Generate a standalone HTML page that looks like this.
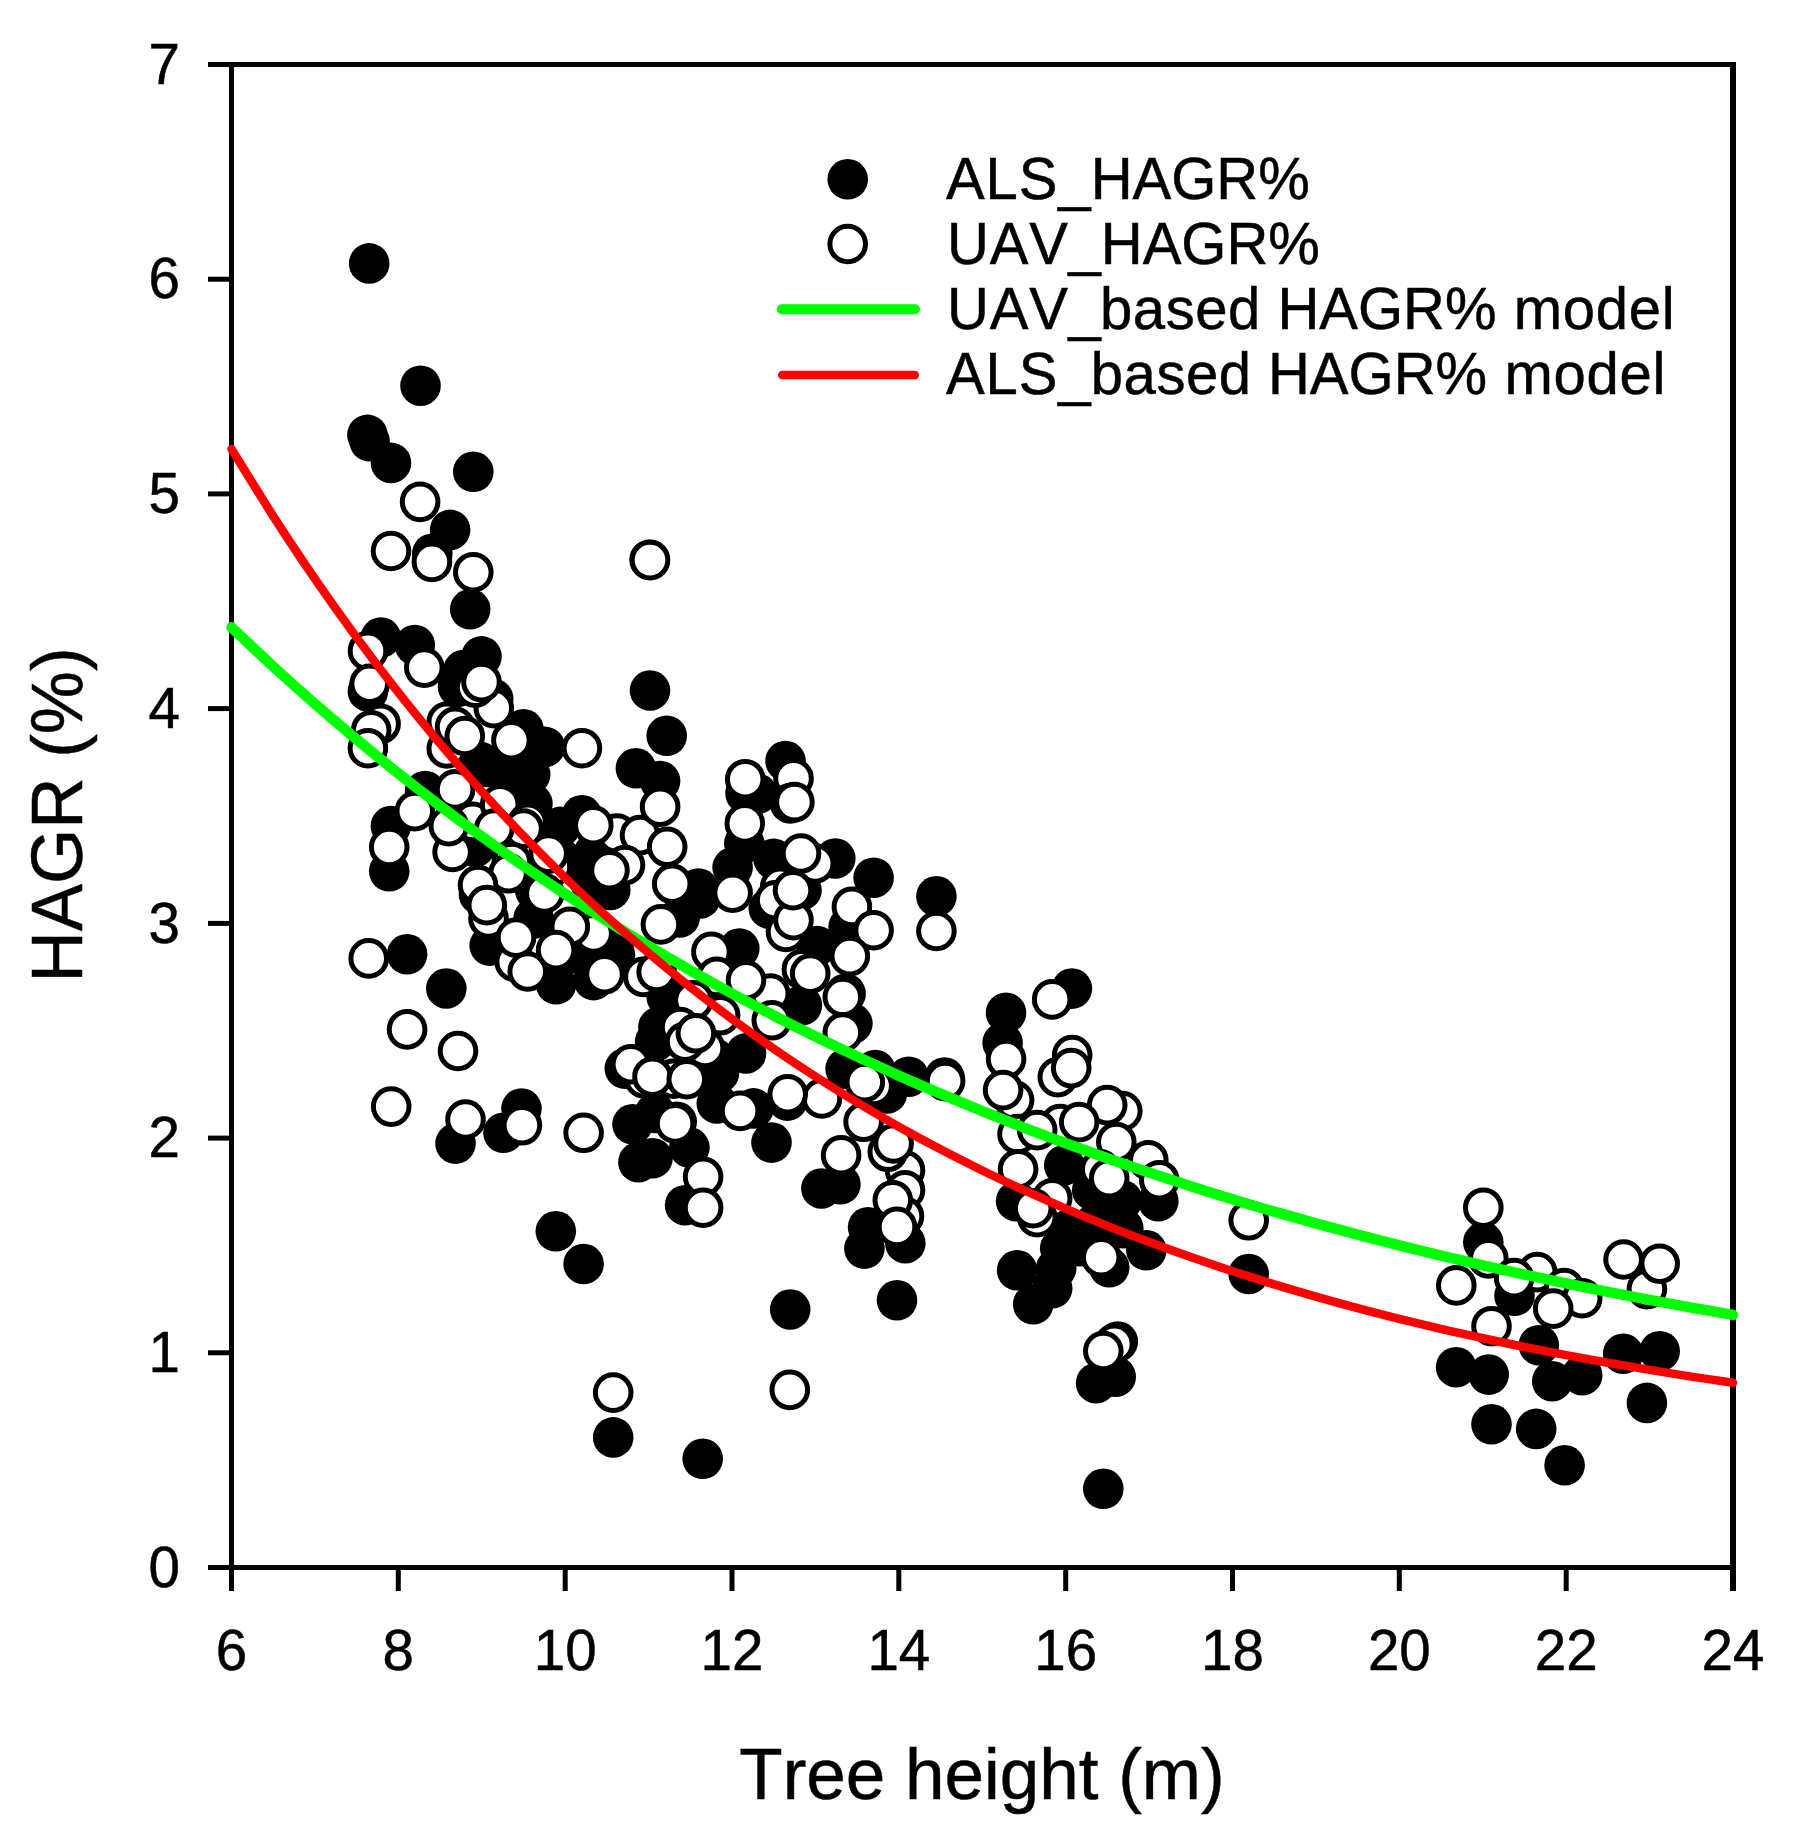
<!DOCTYPE html>
<html lang="en"><head><meta charset="utf-8"><title>HAGR vs Tree height</title>
<style>html,body{margin:0;padding:0;background:#fff}body{width:1798px;height:1829px;overflow:hidden}svg{display:block}text{font-family:"Liberation Sans",sans-serif;fill:#000;font-kerning:none;stroke:#000;stroke-width:0.5px}.b{fill:#000}.w{fill:#fff;stroke:#000;stroke-width:5}</style></head><body>
<svg width="1798" height="1829" viewBox="0 0 1798 1829">
<rect width="1798" height="1829" fill="#fff"/>
<g stroke="#000" stroke-width="5" fill="none">
<path d="M229 64.5 H1736"/>
<path d="M208 1567.5 H1736"/>
<path d="M231.5 62 V1591"/>
<path d="M1733 62 V1591" stroke-width="6"/>
<path d="M208 1567.5 H231.5"/>
<path d="M208 1352.8 H231.5"/>
<path d="M208 1138.1 H231.5"/>
<path d="M208 923.4 H231.5"/>
<path d="M208 708.6 H231.5"/>
<path d="M208 493.9 H231.5"/>
<path d="M208 279.2 H231.5"/>
<path d="M208 64.5 H231.5"/>
<path d="M398.3 1567.5 V1591"/>
<path d="M565.2 1567.5 V1591"/>
<path d="M732.0 1567.5 V1591"/>
<path d="M898.8 1567.5 V1591"/>
<path d="M1065.7 1567.5 V1591"/>
<path d="M1232.5 1567.5 V1591"/>
<path d="M1399.3 1567.5 V1591"/>
<path d="M1566.2 1567.5 V1591"/>
</g>
<g class="b">
<circle cx="369.2" cy="263.4" r="20.3"/>
<circle cx="420.5" cy="385.7" r="20.3"/>
<circle cx="367.4" cy="434.9" r="20.3"/>
<circle cx="369.6" cy="441.3" r="20.3"/>
<circle cx="391.0" cy="462.9" r="20.3"/>
<circle cx="473.3" cy="471.8" r="20.3"/>
<circle cx="450.1" cy="529.9" r="20.3"/>
<circle cx="432.3" cy="553.7" r="20.3"/>
<circle cx="470.2" cy="609.3" r="20.3"/>
<circle cx="380.9" cy="637.6" r="20.3"/>
<circle cx="414.8" cy="645.1" r="20.3"/>
<circle cx="481.5" cy="656.4" r="20.3"/>
<circle cx="463.5" cy="670.1" r="20.3"/>
<circle cx="458.0" cy="686.8" r="20.3"/>
<circle cx="367.9" cy="691.5" r="20.3"/>
<circle cx="493.2" cy="698.8" r="20.3"/>
<circle cx="523.5" cy="729.3" r="20.3"/>
<circle cx="544.9" cy="746.9" r="20.3"/>
<circle cx="530.2" cy="774.4" r="20.3"/>
<circle cx="506.9" cy="765.2" r="20.3"/>
<circle cx="486.8" cy="766.9" r="20.3"/>
<circle cx="480.2" cy="761.9" r="20.3"/>
<circle cx="513.5" cy="785.2" r="20.3"/>
<circle cx="425.1" cy="791.1" r="20.3"/>
<circle cx="390.9" cy="826.1" r="20.3"/>
<circle cx="532.4" cy="803.6" r="20.3"/>
<circle cx="581.9" cy="815.3" r="20.3"/>
<circle cx="560.3" cy="826.9" r="20.3"/>
<circle cx="475.2" cy="847.0" r="20.3"/>
<circle cx="593.6" cy="853.6" r="20.3"/>
<circle cx="389.2" cy="871.3" r="20.3"/>
<circle cx="407.1" cy="954.3" r="20.3"/>
<circle cx="446.3" cy="988.5" r="20.3"/>
<circle cx="489.7" cy="945.6" r="20.3"/>
<circle cx="556.1" cy="984.3" r="20.3"/>
<circle cx="593.6" cy="980.1" r="20.3"/>
<circle cx="533.6" cy="918.4" r="20.3"/>
<circle cx="576.9" cy="953.4" r="20.3"/>
<circle cx="613.6" cy="946.8" r="20.3"/>
<circle cx="610.3" cy="890.0" r="20.3"/>
<circle cx="521.5" cy="1108.6" r="20.3"/>
<circle cx="503.5" cy="1132.8" r="20.3"/>
<circle cx="455.5" cy="1143.6" r="20.3"/>
<circle cx="624.8" cy="1068.6" r="20.3"/>
<circle cx="650.0" cy="690.5" r="20.3"/>
<circle cx="666.7" cy="735.8" r="20.3"/>
<circle cx="635.9" cy="768.3" r="20.3"/>
<circle cx="660.1" cy="781.1" r="20.3"/>
<circle cx="785.5" cy="761.1" r="20.3"/>
<circle cx="745.5" cy="793.4" r="20.3"/>
<circle cx="744.3" cy="843.4" r="20.3"/>
<circle cx="732.6" cy="867.6" r="20.3"/>
<circle cx="773.5" cy="858.8" r="20.3"/>
<circle cx="835.3" cy="858.5" r="20.3"/>
<circle cx="873.6" cy="877.7" r="20.3"/>
<circle cx="698.4" cy="888.5" r="20.3"/>
<circle cx="700.1" cy="898.5" r="20.3"/>
<circle cx="679.7" cy="917.4" r="20.3"/>
<circle cx="739.3" cy="948.6" r="20.3"/>
<circle cx="801.5" cy="890.2" r="20.3"/>
<circle cx="768.8" cy="908.5" r="20.3"/>
<circle cx="816.9" cy="946.1" r="20.3"/>
<circle cx="848.6" cy="926.9" r="20.3"/>
<circle cx="801.9" cy="1005.3" r="20.3"/>
<circle cx="852.4" cy="1023.6" r="20.3"/>
<circle cx="658.4" cy="1027.0" r="20.3"/>
<circle cx="615.0" cy="955.2" r="20.3"/>
<circle cx="666.7" cy="997.0" r="20.3"/>
<circle cx="655.1" cy="1041.7" r="20.3"/>
<circle cx="746.0" cy="1053.4" r="20.3"/>
<circle cx="716.8" cy="1103.4" r="20.3"/>
<circle cx="753.5" cy="1108.4" r="20.3"/>
<circle cx="787.4" cy="1100.6" r="20.3"/>
<circle cx="771.5" cy="1142.6" r="20.3"/>
<circle cx="632.5" cy="1124.3" r="20.3"/>
<circle cx="638.4" cy="1162.2" r="20.3"/>
<circle cx="652.5" cy="1158.2" r="20.3"/>
<circle cx="689.4" cy="1147.6" r="20.3"/>
<circle cx="676.7" cy="1121.8" r="20.3"/>
<circle cx="685.1" cy="1205.2" r="20.3"/>
<circle cx="821.4" cy="1188.5" r="20.3"/>
<circle cx="840.4" cy="1184.3" r="20.3"/>
<circle cx="845.6" cy="1068.7" r="20.3"/>
<circle cx="875.3" cy="1070.1" r="20.3"/>
<circle cx="908.7" cy="1076.7" r="20.3"/>
<circle cx="887.0" cy="1093.4" r="20.3"/>
<circle cx="868.1" cy="1227.2" r="20.3"/>
<circle cx="864.4" cy="1248.6" r="20.3"/>
<circle cx="905.3" cy="1243.2" r="20.3"/>
<circle cx="790.2" cy="1309.5" r="20.3"/>
<circle cx="897.0" cy="1300.3" r="20.3"/>
<circle cx="613.2" cy="1437.4" r="20.3"/>
<circle cx="702.7" cy="1458.8" r="20.3"/>
<circle cx="555.8" cy="1231.3" r="20.3"/>
<circle cx="583.6" cy="1264.0" r="20.3"/>
<circle cx="936.4" cy="896.3" r="20.3"/>
<circle cx="1006.0" cy="1012.8" r="20.3"/>
<circle cx="1002.6" cy="1042.8" r="20.3"/>
<circle cx="1071.9" cy="988.6" r="20.3"/>
<circle cx="944.5" cy="1077.5" r="20.3"/>
<circle cx="1016.1" cy="1201.2" r="20.3"/>
<circle cx="1064.2" cy="1165.2" r="20.3"/>
<circle cx="1092.2" cy="1190.2" r="20.3"/>
<circle cx="1122.3" cy="1200.2" r="20.3"/>
<circle cx="1158.3" cy="1201.2" r="20.3"/>
<circle cx="1064.2" cy="1230.2" r="20.3"/>
<circle cx="1094.2" cy="1224.2" r="20.3"/>
<circle cx="1123.3" cy="1228.2" r="20.3"/>
<circle cx="1146.3" cy="1250.3" r="20.3"/>
<circle cx="1109.2" cy="1267.3" r="20.3"/>
<circle cx="1017.1" cy="1270.3" r="20.3"/>
<circle cx="1056.2" cy="1268.3" r="20.3"/>
<circle cx="1052.2" cy="1288.3" r="20.3"/>
<circle cx="1033.2" cy="1304.3" r="20.3"/>
<circle cx="1060.2" cy="1248.3" r="20.3"/>
<circle cx="1080.2" cy="1246.3" r="20.3"/>
<circle cx="1248.7" cy="1274.0" r="20.3"/>
<circle cx="1483.3" cy="1242.3" r="20.3"/>
<circle cx="1514.5" cy="1295.8" r="20.3"/>
<circle cx="1538.8" cy="1345.2" r="20.3"/>
<circle cx="1456.1" cy="1367.2" r="20.3"/>
<circle cx="1488.7" cy="1374.6" r="20.3"/>
<circle cx="1552.2" cy="1381.2" r="20.3"/>
<circle cx="1582.2" cy="1375.2" r="20.3"/>
<circle cx="1623.2" cy="1353.8" r="20.3"/>
<circle cx="1659.7" cy="1351.2" r="20.3"/>
<circle cx="1646.9" cy="1402.9" r="20.3"/>
<circle cx="1491.5" cy="1424.3" r="20.3"/>
<circle cx="1536.2" cy="1428.9" r="20.3"/>
<circle cx="1564.6" cy="1465.3" r="20.3"/>
<circle cx="1103.3" cy="1488.8" r="20.3"/>
<circle cx="1096.1" cy="1383.2" r="20.3"/>
<circle cx="1115.7" cy="1376.7" r="20.3"/>
<circle cx="1117.8" cy="1341.6" r="20.3"/>
<circle cx="655.1" cy="1113.0" r="20.3"/>
<circle cx="713.8" cy="1057.9" r="20.3"/>
<circle cx="719.0" cy="1073.0" r="20.3"/>
<circle cx="757.5" cy="793.8" r="20.3"/>
<circle cx="845.6" cy="993.7" r="20.3"/>
<circle cx="559.6" cy="857.4" r="20.3"/>
<circle cx="535.2" cy="890.3" r="20.3"/>
<circle cx="589.4" cy="880.5" r="20.3"/>
<circle cx="479.0" cy="894.5" r="20.3"/>
</g><g class="w">
<circle cx="617.0" cy="833.6" r="17.8"/>
<circle cx="640.0" cy="835.1" r="17.8"/>
<circle cx="625.0" cy="865.1" r="17.8"/>
<circle cx="905.0" cy="1170.2" r="17.8"/>
<circle cx="905.0" cy="1190.2" r="17.8"/>
<circle cx="904.0" cy="1216.2" r="17.8"/>
<circle cx="673.4" cy="1078.7" r="17.8"/>
<circle cx="420.1" cy="501.9" r="17.8"/>
<circle cx="391.0" cy="551.0" r="17.8"/>
<circle cx="431.9" cy="561.9" r="17.8"/>
<circle cx="473.3" cy="572.2" r="17.8"/>
<circle cx="649.7" cy="559.7" r="17.8"/>
<circle cx="368.0" cy="650.9" r="17.8"/>
<circle cx="369.7" cy="683.8" r="17.8"/>
<circle cx="424.3" cy="667.6" r="17.8"/>
<circle cx="493.8" cy="708.1" r="17.8"/>
<circle cx="475.2" cy="687.6" r="17.8"/>
<circle cx="481.5" cy="682.1" r="17.8"/>
<circle cx="511.4" cy="740.2" r="17.8"/>
<circle cx="581.9" cy="748.2" r="17.8"/>
<circle cx="446.8" cy="748.5" r="17.8"/>
<circle cx="446.8" cy="721.8" r="17.8"/>
<circle cx="455.1" cy="726.8" r="17.8"/>
<circle cx="464.8" cy="736.0" r="17.8"/>
<circle cx="380.6" cy="723.8" r="17.8"/>
<circle cx="371.2" cy="730.2" r="17.8"/>
<circle cx="367.9" cy="748.2" r="17.8"/>
<circle cx="455.1" cy="789.4" r="17.8"/>
<circle cx="414.8" cy="811.1" r="17.8"/>
<circle cx="389.2" cy="847.0" r="17.8"/>
<circle cx="472.7" cy="821.9" r="17.8"/>
<circle cx="452.6" cy="852.0" r="17.8"/>
<circle cx="448.8" cy="826.1" r="17.8"/>
<circle cx="500.2" cy="804.4" r="17.8"/>
<circle cx="527.7" cy="822.8" r="17.8"/>
<circle cx="523.5" cy="828.6" r="17.8"/>
<circle cx="494.3" cy="828.6" r="17.8"/>
<circle cx="593.3" cy="825.3" r="17.8"/>
<circle cx="609.5" cy="870.3" r="17.8"/>
<circle cx="551.9" cy="867.0" r="17.8"/>
<circle cx="548.6" cy="853.6" r="17.8"/>
<circle cx="511.9" cy="862.0" r="17.8"/>
<circle cx="368.7" cy="958.4" r="17.8"/>
<circle cx="407.1" cy="1029.4" r="17.8"/>
<circle cx="458.0" cy="1051.0" r="17.8"/>
<circle cx="391.2" cy="1106.6" r="17.8"/>
<circle cx="465.5" cy="1119.5" r="17.8"/>
<circle cx="521.9" cy="1125.3" r="17.8"/>
<circle cx="583.6" cy="1132.8" r="17.8"/>
<circle cx="508.5" cy="873.3" r="17.8"/>
<circle cx="478.0" cy="885.0" r="17.8"/>
<circle cx="488.5" cy="918.4" r="17.8"/>
<circle cx="486.8" cy="905.1" r="17.8"/>
<circle cx="514.7" cy="961.8" r="17.8"/>
<circle cx="516.0" cy="937.6" r="17.8"/>
<circle cx="527.7" cy="971.5" r="17.8"/>
<circle cx="593.6" cy="933.4" r="17.8"/>
<circle cx="569.8" cy="926.7" r="17.8"/>
<circle cx="556.1" cy="950.1" r="17.8"/>
<circle cx="604.5" cy="974.3" r="17.8"/>
<circle cx="544.4" cy="893.4" r="17.8"/>
<circle cx="650.0" cy="560.1" r="17.8"/>
<circle cx="793.5" cy="778.4" r="17.8"/>
<circle cx="745.2" cy="779.2" r="17.8"/>
<circle cx="790.2" cy="803.4" r="17.8"/>
<circle cx="794.4" cy="802.1" r="17.8"/>
<circle cx="744.8" cy="823.4" r="17.8"/>
<circle cx="660.1" cy="806.7" r="17.8"/>
<circle cx="667.2" cy="846.8" r="17.8"/>
<circle cx="672.2" cy="883.8" r="17.8"/>
<circle cx="660.9" cy="924.4" r="17.8"/>
<circle cx="732.6" cy="892.7" r="17.8"/>
<circle cx="815.2" cy="863.5" r="17.8"/>
<circle cx="801.0" cy="853.5" r="17.8"/>
<circle cx="780.2" cy="886.8" r="17.8"/>
<circle cx="775.2" cy="900.2" r="17.8"/>
<circle cx="786.0" cy="931.9" r="17.8"/>
<circle cx="793.5" cy="920.2" r="17.8"/>
<circle cx="793.0" cy="890.2" r="17.8"/>
<circle cx="851.9" cy="906.9" r="17.8"/>
<circle cx="873.6" cy="930.2" r="17.8"/>
<circle cx="849.8" cy="956.1" r="17.8"/>
<circle cx="801.9" cy="969.4" r="17.8"/>
<circle cx="810.2" cy="973.6" r="17.8"/>
<circle cx="842.8" cy="997.0" r="17.8"/>
<circle cx="711.4" cy="951.9" r="17.8"/>
<circle cx="716.8" cy="976.9" r="17.8"/>
<circle cx="770.2" cy="993.6" r="17.8"/>
<circle cx="746.0" cy="980.3" r="17.8"/>
<circle cx="771.8" cy="1020.3" r="17.8"/>
<circle cx="720.1" cy="1015.3" r="17.8"/>
<circle cx="693.4" cy="1000.3" r="17.8"/>
<circle cx="643.4" cy="976.9" r="17.8"/>
<circle cx="656.7" cy="971.9" r="17.8"/>
<circle cx="680.1" cy="1027.0" r="17.8"/>
<circle cx="705.1" cy="1048.0" r="17.8"/>
<circle cx="685.1" cy="1041.7" r="17.8"/>
<circle cx="695.9" cy="1033.3" r="17.8"/>
<circle cx="644.2" cy="1078.4" r="17.8"/>
<circle cx="630.9" cy="1064.2" r="17.8"/>
<circle cx="652.5" cy="1076.7" r="17.8"/>
<circle cx="686.8" cy="1079.2" r="17.8"/>
<circle cx="675.1" cy="1123.4" r="17.8"/>
<circle cx="740.1" cy="1110.9" r="17.8"/>
<circle cx="821.9" cy="1098.4" r="17.8"/>
<circle cx="787.7" cy="1094.2" r="17.8"/>
<circle cx="873.6" cy="1085.9" r="17.8"/>
<circle cx="864.8" cy="1082.1" r="17.8"/>
<circle cx="863.6" cy="1121.8" r="17.8"/>
<circle cx="887.8" cy="1151.8" r="17.8"/>
<circle cx="893.6" cy="1143.5" r="17.8"/>
<circle cx="841.1" cy="1155.2" r="17.8"/>
<circle cx="703.1" cy="1176.8" r="17.8"/>
<circle cx="703.1" cy="1207.7" r="17.8"/>
<circle cx="892.8" cy="1200.2" r="17.8"/>
<circle cx="897.0" cy="1226.9" r="17.8"/>
<circle cx="842.8" cy="1032.5" r="17.8"/>
<circle cx="613.2" cy="1392.6" r="17.8"/>
<circle cx="789.8" cy="1389.9" r="17.8"/>
<circle cx="936.4" cy="931.0" r="17.8"/>
<circle cx="1052.2" cy="999.4" r="17.8"/>
<circle cx="1006.1" cy="1059.0" r="17.8"/>
<circle cx="945.1" cy="1081.1" r="17.8"/>
<circle cx="1014.1" cy="1100.1" r="17.8"/>
<circle cx="1003.1" cy="1090.1" r="17.8"/>
<circle cx="1072.2" cy="1055.0" r="17.8"/>
<circle cx="1057.8" cy="1077.1" r="17.8"/>
<circle cx="1071.2" cy="1068.1" r="17.8"/>
<circle cx="1122.3" cy="1111.1" r="17.8"/>
<circle cx="1107.2" cy="1105.1" r="17.8"/>
<circle cx="1060.2" cy="1124.1" r="17.8"/>
<circle cx="1079.2" cy="1122.1" r="17.8"/>
<circle cx="1116.3" cy="1142.1" r="17.8"/>
<circle cx="1017.5" cy="1134.1" r="17.8"/>
<circle cx="1037.2" cy="1130.1" r="17.8"/>
<circle cx="1018.1" cy="1169.2" r="17.8"/>
<circle cx="1052.2" cy="1198.2" r="17.8"/>
<circle cx="1037.2" cy="1217.2" r="17.8"/>
<circle cx="1033.2" cy="1208.2" r="17.8"/>
<circle cx="1100.2" cy="1169.2" r="17.8"/>
<circle cx="1109.2" cy="1178.2" r="17.8"/>
<circle cx="1148.3" cy="1160.2" r="17.8"/>
<circle cx="1159.3" cy="1180.2" r="17.8"/>
<circle cx="1101.2" cy="1257.3" r="17.8"/>
<circle cx="1248.7" cy="1220.3" r="17.8"/>
<circle cx="1483.3" cy="1207.7" r="17.8"/>
<circle cx="1488.3" cy="1258.4" r="17.8"/>
<circle cx="1456.3" cy="1285.4" r="17.8"/>
<circle cx="1537.2" cy="1272.1" r="17.8"/>
<circle cx="1514.1" cy="1278.1" r="17.8"/>
<circle cx="1564.2" cy="1288.1" r="17.8"/>
<circle cx="1582.2" cy="1298.2" r="17.8"/>
<circle cx="1553.2" cy="1308.6" r="17.8"/>
<circle cx="1491.5" cy="1326.2" r="17.8"/>
<circle cx="1623.6" cy="1259.5" r="17.8"/>
<circle cx="1646.9" cy="1289.1" r="17.8"/>
<circle cx="1659.7" cy="1263.7" r="17.8"/>
<circle cx="1114.3" cy="1343.9" r="17.8"/>
<circle cx="1103.3" cy="1351.0" r="17.8"/>
</g>
<path d="M231.5 627.3 C238.5 633.8 259.3 653.7 273.2 666.5 C287.1 679.2 301.0 691.7 314.9 703.8 C328.8 716.0 342.7 727.9 356.6 739.4 C370.5 751.0 384.4 762.3 398.3 773.4 C412.2 784.4 426.1 795.2 440.0 805.7 C453.9 816.3 467.8 826.5 481.8 836.6 C495.7 846.6 509.6 856.4 523.5 866.0 C537.4 875.5 551.3 884.8 565.2 894.0 C579.1 903.1 593.0 912.0 606.9 920.7 C620.8 929.3 634.7 937.8 648.6 946.1 C662.5 954.4 676.4 962.5 690.3 970.3 C704.2 978.2 718.1 985.9 732.0 993.5 C745.9 1001.0 759.8 1008.3 773.7 1015.5 C787.6 1022.7 801.5 1029.6 815.4 1036.5 C829.3 1043.3 843.2 1050.0 857.1 1056.5 C871.0 1063.0 884.9 1069.4 898.8 1075.6 C912.7 1081.8 926.6 1087.8 940.5 1093.7 C954.4 1099.7 968.3 1105.4 982.2 1111.1 C996.2 1116.7 1010.1 1122.2 1024.0 1127.6 C1037.9 1133.0 1051.8 1138.2 1065.7 1143.3 C1079.6 1148.4 1093.5 1153.4 1107.4 1158.3 C1121.3 1163.2 1135.2 1168.0 1149.1 1172.6 C1163.0 1177.3 1176.9 1181.8 1190.8 1186.2 C1204.7 1190.7 1218.6 1195.0 1232.5 1199.2 C1246.4 1203.5 1260.3 1207.6 1274.2 1211.6 C1288.1 1215.6 1302.0 1219.6 1315.9 1223.4 C1329.8 1227.2 1343.7 1231.0 1357.6 1234.6 C1371.5 1238.3 1385.4 1241.9 1399.3 1245.4 C1413.2 1248.9 1427.1 1252.3 1441.0 1255.6 C1454.9 1258.9 1468.8 1262.1 1482.8 1265.3 C1496.7 1268.5 1510.6 1271.6 1524.5 1274.6 C1538.4 1277.6 1552.3 1280.6 1566.2 1283.4 C1580.1 1286.3 1594.0 1289.1 1607.9 1291.9 C1621.8 1294.6 1635.7 1297.3 1649.6 1299.9 C1663.5 1302.5 1677.4 1305.1 1691.3 1307.6 C1705.2 1310.0 1726.0 1313.6 1733.0 1314.9" fill="none" stroke="#00ff00" stroke-width="10.5" stroke-linecap="round"/>
<path d="M231.5 448.9 C238.5 460.1 259.3 494.5 273.2 516.1 C287.1 537.8 301.0 558.6 314.9 578.9 C328.8 599.1 342.7 618.6 356.6 637.5 C370.5 656.4 384.4 674.6 398.3 692.3 C412.2 709.9 426.1 727.0 440.0 743.5 C453.9 760.0 467.8 775.9 481.8 791.3 C495.7 806.7 509.6 821.6 523.5 836.0 C537.4 850.4 551.3 864.2 565.2 877.7 C579.1 891.2 593.0 904.1 606.9 916.7 C620.8 929.3 634.7 941.4 648.6 953.1 C662.5 964.9 676.4 976.2 690.3 987.2 C704.2 998.2 718.1 1008.7 732.0 1019.0 C745.9 1029.2 759.8 1039.1 773.7 1048.7 C787.6 1058.3 801.5 1067.5 815.4 1076.5 C829.3 1085.4 843.2 1094.1 857.1 1102.4 C871.0 1110.8 884.9 1118.8 898.8 1126.7 C912.7 1134.5 926.6 1142.0 940.5 1149.3 C954.4 1156.6 968.3 1163.6 982.2 1170.5 C996.2 1177.3 1010.1 1183.9 1024.0 1190.2 C1037.9 1196.6 1051.8 1202.7 1065.7 1208.7 C1079.6 1214.6 1093.5 1220.4 1107.4 1225.9 C1121.3 1231.5 1135.2 1236.9 1149.1 1242.1 C1163.0 1247.3 1176.9 1252.3 1190.8 1257.1 C1204.7 1262.0 1218.6 1266.7 1232.5 1271.2 C1246.4 1275.7 1260.3 1280.1 1274.2 1284.4 C1288.1 1288.6 1302.0 1292.7 1315.9 1296.6 C1329.8 1300.6 1343.7 1304.4 1357.6 1308.1 C1371.5 1311.8 1385.4 1315.4 1399.3 1318.8 C1413.2 1322.3 1427.1 1325.6 1441.0 1328.9 C1454.9 1332.1 1468.8 1335.2 1482.8 1338.2 C1496.7 1341.2 1510.6 1344.2 1524.5 1347.0 C1538.4 1349.8 1552.3 1352.5 1566.2 1355.1 C1580.1 1357.8 1594.0 1360.3 1607.9 1362.8 C1621.8 1365.2 1635.7 1367.6 1649.6 1369.9 C1663.5 1372.2 1677.4 1374.4 1691.3 1376.6 C1705.2 1378.7 1726.0 1381.8 1733.0 1382.8" fill="none" stroke="#ff0000" stroke-width="8.5" stroke-linecap="round"/>
<text transform="translate(180.0 1586.6) scale(1 1.030)" font-size="56.5" text-anchor="end">0</text>
<text transform="translate(180.0 1371.9) scale(1 1.030)" font-size="56.5" text-anchor="end">1</text>
<text transform="translate(180.0 1157.2) scale(1 1.030)" font-size="56.5" text-anchor="end">2</text>
<text transform="translate(180.0 942.5) scale(1 1.030)" font-size="56.5" text-anchor="end">3</text>
<text transform="translate(180.0 727.7) scale(1 1.030)" font-size="56.5" text-anchor="end">4</text>
<text transform="translate(180.0 513.0) scale(1 1.030)" font-size="56.5" text-anchor="end">5</text>
<text transform="translate(180.0 298.3) scale(1 1.030)" font-size="56.5" text-anchor="end">6</text>
<text transform="translate(180.0 83.6) scale(1 1.030)" font-size="56.5" text-anchor="end">7</text>
<text transform="translate(231.5 1669.5) scale(1 1.030)" font-size="56.5" text-anchor="middle">6</text>
<text transform="translate(398.3 1669.5) scale(1 1.030)" font-size="56.5" text-anchor="middle">8</text>
<text transform="translate(565.2 1669.5) scale(1 1.030)" font-size="56.5" text-anchor="middle">10</text>
<text transform="translate(732.0 1669.5) scale(1 1.030)" font-size="56.5" text-anchor="middle">12</text>
<text transform="translate(898.8 1669.5) scale(1 1.030)" font-size="56.5" text-anchor="middle">14</text>
<text transform="translate(1065.7 1669.5) scale(1 1.030)" font-size="56.5" text-anchor="middle">16</text>
<text transform="translate(1232.5 1669.5) scale(1 1.030)" font-size="56.5" text-anchor="middle">18</text>
<text transform="translate(1399.3 1669.5) scale(1 1.030)" font-size="56.5" text-anchor="middle">20</text>
<text transform="translate(1566.2 1669.5) scale(1 1.030)" font-size="56.5" text-anchor="middle">22</text>
<text transform="translate(1733.0 1669.5) scale(1 1.030)" font-size="56.5" text-anchor="middle">24</text>
<text transform="translate(982.0 1799.0) scale(1 1.030)" font-size="71" text-anchor="middle">Tree height (m)</text>
<text transform="translate(82.2 815.0) rotate(-90) scale(1 1.030)" font-size="71" text-anchor="middle">HAGR (%)</text>
<circle class="b" cx="847.7" cy="179.3" r="20.3"/>
<circle class="w" cx="847.7" cy="244" r="17.8"/>
<path d="M781.7 309.3 H915" stroke="#00ff00" stroke-width="10" stroke-linecap="round"/>
<path d="M782.2 375 H914.8" stroke="#ff0000" stroke-width="8.5" stroke-linecap="round"/>
<text transform="translate(0 198.9) scale(1 1.030)" font-size="58" xml:space="preserve"><tspan x="946.0" letter-spacing="0.9">ALS_</tspan><tspan x="1090.7">HAGR%</tspan></text>
<text transform="translate(0 263.9) scale(1 1.030)" font-size="58" xml:space="preserve"><tspan x="947.0" letter-spacing="0.8">UAV_</tspan><tspan x="1100.8">HAGR%</tspan></text>
<text transform="translate(0 328.9) scale(1 1.030)" font-size="58" xml:space="preserve"><tspan x="947.0" letter-spacing="0.8">UAV_</tspan><tspan x="1100.0" letter-spacing="0.6">based </tspan><tspan x="1277.4">HAGR% </tspan><tspan x="1513.8" letter-spacing="0.75">model</tspan></text>
<text transform="translate(0 393.9) scale(1 1.030)" font-size="58" xml:space="preserve"><tspan x="946.0" letter-spacing="0.9">ALS_</tspan><tspan x="1090.7" letter-spacing="0.6">based </tspan><tspan x="1268.0">HAGR% </tspan><tspan x="1504.5" letter-spacing="0.75">model</tspan></text>
</svg></body></html>
